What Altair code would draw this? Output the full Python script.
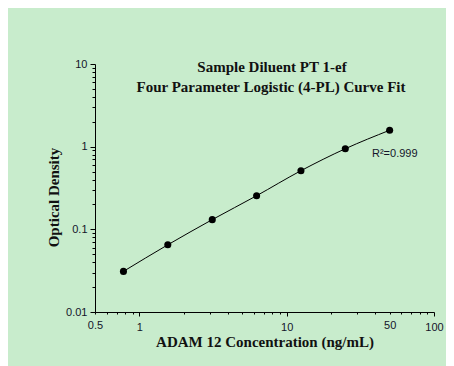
import altair as alt
import pandas as pd

conc = [0.78, 1.56, 3.125, 6.25, 12.5, 25, 50]
od = [0.031, 0.065, 0.131, 0.255, 0.512, 0.944, 1.58]

x_ticks = [0.5, 0.6, 0.7, 0.8, 0.9, 1, 2, 3, 4, 5, 6, 7, 8, 9, 10,
           20, 30, 40, 50, 60, 70, 80, 90, 100]
x_labels = [0.5, 1, 10, 50, 100]
x_major = [1, 10, 100]
y_ticks = [0.01, 0.02, 0.03, 0.04, 0.05, 0.06, 0.07, 0.08, 0.09,
           0.1, 0.2, 0.3, 0.4, 0.5, 0.6, 0.7, 0.8, 0.9,
           1, 2, 3, 4, 5, 6, 7, 8, 9, 10]
y_major = [0.01, 0.1, 1, 10]

title_lines = ["Sample Diluent PT 1-ef", "Four Parameter Logistic (4-PL) Curve Fit"]
r2_text = "R\u00b2=0.999"

df = pd.DataFrame({"conc": conc, "od": od})

BG = "#c8eccc"
LBL = "#14142a"

def arr(v):
    return "[" + ",".join(str(a) for a in v) + "]"

xscale = alt.Scale(type="log", domain=[0.5, 100], nice=False)
yscale = alt.Scale(type="log", domain=[0.01, 10], nice=False)

xaxis = alt.Axis(
    values=x_ticks,
    labelExpr=f"indexof({arr(x_labels)}, datum.value) >= 0 ? datum.label : ''",
    tickSize={"condition": {"test": f"indexof({arr(x_major)}, datum.value) >= 0", "value": 4}, "value": 2},
    labelPadding=5,
    labelFont="Liberation Sans", labelFontSize=11, labelColor=LBL,
    title="ADAM 12 Concentration (ng/mL)",
    titleFont="Liberation Serif", titleFontSize=15, titleFontWeight="bold", titleColor="#111111",
    titlePadding=2,
    grid=False, domainColor="black", tickColor="black", labelFlush=False, labelOverlap=False,
)
yaxis = alt.Axis(
    values=y_ticks,
    labelExpr=f"indexof({arr(y_major)}, datum.value) >= 0 ? datum.label : ''",
    tickSize={"condition": {"test": f"indexof({arr(y_major)}, datum.value) >= 0", "value": 5}, "value": 3},
    labelPadding=3,
    labelFont="Liberation Sans", labelFontSize=11, labelColor=LBL,
    title="Optical Density",
    titleFont="Liberation Serif", titleFontSize=15, titleFontWeight="bold", titleColor="#111111",
    titlePadding=4, titleY=133,
    grid=False, domainColor="black", tickColor="black", labelFlush=False, labelOverlap=False,
)

base = alt.Chart(df)
line = base.mark_line(color="black", strokeWidth=1, interpolate="monotone").encode(
    x=alt.X("conc:Q", scale=xscale, axis=xaxis),
    y=alt.Y("od:Q", scale=yscale, axis=yaxis),
)
pts = base.mark_point(filled=True, color="black", size=50, opacity=1).encode(
    x=alt.X("conc:Q", scale=xscale),
    y=alt.Y("od:Q", scale=yscale),
)

t1 = alt.Chart(pd.DataFrame({"t": [title_lines[0]]})).mark_text(
    font="Liberation Serif", fontSize=15, fontWeight="bold", color="#111111", align="center", baseline="middle"
).encode(x=alt.value(177), y=alt.value(3), text="t:N")
t2 = alt.Chart(pd.DataFrame({"t": [title_lines[1]]})).mark_text(
    font="Liberation Serif", fontSize=15, fontWeight="bold", color="#111111", align="center", baseline="middle"
).encode(x=alt.value(176), y=alt.value(23), text="t:N")
r2 = alt.Chart(pd.DataFrame({"t": [r2_text]})).mark_text(
    font="Liberation Sans", fontSize=11, color=LBL, align="left", baseline="middle"
).encode(x=alt.value(277), y=alt.value(90), text="t:N")

chart = alt.layer(line, pts, t1, t2, r2).properties(
    width=339, height=248,
    autosize=alt.AutoSizeParams(type="none"),
    padding={"left": 87, "top": 56, "right": 12, "bottom": 54},
    background=BG,
).configure_view(stroke=None)

chart.save("out.html", embed_options={"renderer": "svg", "actions": False})
